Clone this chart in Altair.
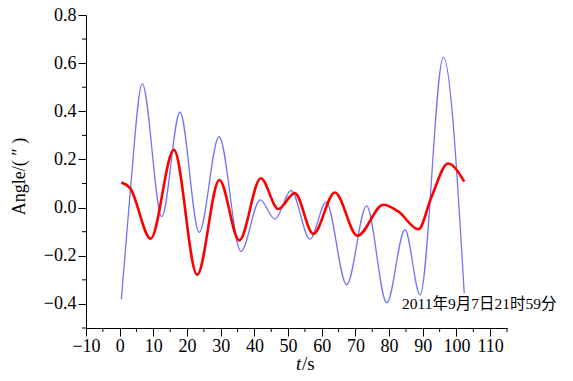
import altair as alt
import pandas as pd

# Blue (thin) series: time (s) and angle
blue_t = [0.5, 3.1, 6.7, 12.5, 17.9, 23.6, 29.5, 36.0, 41.7, 46.1, 50.9, 56.5,
          61.3, 67.4, 73.3, 79.3, 84.7, 89.2, 96.1, 102.3]
blue_v = [-0.38, 0.06, 0.514, -0.037, 0.396, -0.103, 0.295, -0.182, 0.032, -0.048,
          0.071, -0.131, 0.023, -0.32, 0.007, -0.396, -0.092, -0.362, 0.624, -0.355]

# Red (thick) series
red_t = [0.5, 3.1, 9.2, 16.1, 23.0, 29.6, 35.5, 41.9, 47.1, 52.0, 57.5, 63.9,
         70.6, 78.3, 82.7, 88.7, 92.6, 97.5, 102.3]
red_v = [0.104, 0.081, -0.129, 0.24, -0.279, 0.115, -0.136, 0.122, -0.006, 0.06,
         -0.109, 0.063, -0.117, 0.012, -0.016, -0.09, 0.045, 0.183, 0.108]

x_major = list(range(-10, 111, 10))
x_minor = list(range(-5, 116, 10))
y_major = [-0.4, -0.2, 0.0, 0.2, 0.4, 0.6, 0.8]
y_minor = [-0.5, -0.3, -0.1, 0.1, 0.3, 0.5, 0.7]

annotation = "2011年9月7日21时59分"
x_title_italic = "t"
x_title_rest = "/s"
y_title = "Angle/( ″ )"

serif = "Liberation Serif"
serif_cjk = "Liberation Serif, Noto Sans CJK SC"

blue_df = pd.DataFrame({"t": blue_t, "v": blue_v})
red_df = pd.DataFrame({"t": red_t, "v": red_v})
xminor_df = pd.DataFrame({"t": x_minor})
yminor_df = pd.DataFrame({"v": y_minor})

x_scale = alt.Scale(domain=[-10, 115], nice=False, zero=False)
y_scale = alt.Scale(domain=[-0.5, 0.8], nice=False, zero=False)

x_axis = alt.Axis(
    values=x_major, format="d", tickSize=8,
    title=None, grid=False,
    labelFont=serif, labelFontSize=18, labelColor="black",
    domainColor="black", tickColor="black", labelPadding=1,
    labelFlush=False, labelOverlap=False,
)
y_axis = alt.Axis(
    values=y_major, format=".1f", tickSize=8,
    title=y_title,
    titleFont=serif, titleFontSize=18, titleFontWeight="normal", titleColor="black",
    titleX=-58, titleY=161,
    grid=False,
    labelFont=serif, labelFontSize=18, labelColor="black",
    domainColor="black", tickColor="black", labelPadding=2,
    labelFlush=False, labelOverlap=False,
)

X = alt.X("t:Q", scale=x_scale, axis=x_axis)
Y = alt.Y("v:Q", scale=y_scale, axis=y_axis)

blue = alt.Chart(blue_df).mark_line(
    interpolate="monotone", color="#7373f5", strokeWidth=1.3
).encode(x=X, y=Y)

red = alt.Chart(red_df).mark_line(
    interpolate="monotone", color="#ff0000", strokeWidth=2.6
).encode(x=X, y=Y)

xminor = alt.Chart(xminor_df).mark_rule(color="black", strokeWidth=1).encode(
    x=X, y=alt.value(313), y2=alt.value(317),
)
yminor = alt.Chart(yminor_df).mark_rule(color="black", strokeWidth=1).encode(
    y=Y, x=alt.value(0), x2=alt.value(-4),
)

one = alt.Data(values=[{}])
ann = alt.Chart(one).mark_text(
    align="left", baseline="alphabetic", font=serif_cjk, fontSize=15.5, color="black"
).encode(x=alt.value(316), y=alt.value(294), text=alt.value(annotation))

t1 = alt.Chart(one).mark_text(
    align="left", baseline="alphabetic", font=serif, fontSize=19,
    fontStyle="italic", color="black"
).encode(x=alt.value(210), y=alt.value(355), text=alt.value(x_title_italic))

t2 = alt.Chart(one).mark_text(
    align="left", baseline="alphabetic", font=serif, fontSize=19, color="black"
).encode(x=alt.value(216), y=alt.value(355), text=alt.value(x_title_rest))

chart = alt.layer(blue, red, xminor, yminor, ann, t1, t2).properties(
    width=421, height=313,
    autosize=alt.AutoSizeParams(type="none"),
    padding={"left": 78, "top": 7, "right": 50, "bottom": 45},
).configure(background="white").configure_view(stroke=None).configure_axis(
    labelOverlap=False, labelFont=serif, labelFontSize=18, labelColor="black"
)

chart.save("out.html", embed_options={"renderer": "svg", "actions": False})
